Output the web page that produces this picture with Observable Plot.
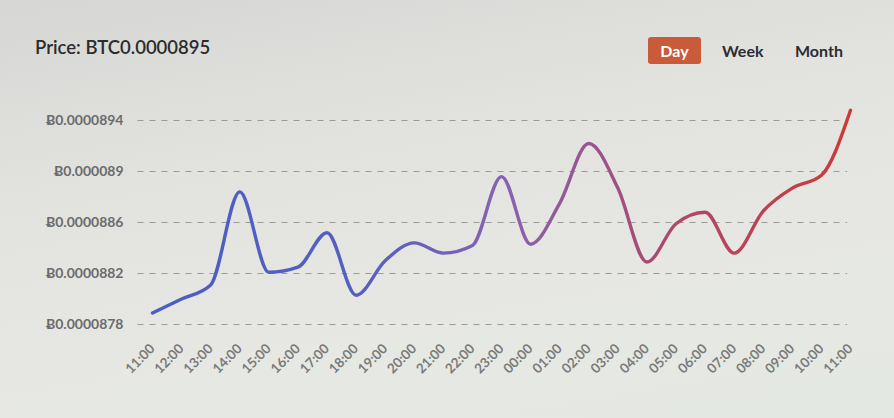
<!DOCTYPE html>
<html>
<head>
<meta charset="utf-8">
<script src="https://cdn.jsdelivr.net/npm/d3@7"></script>
<script src="https://cdn.jsdelivr.net/npm/@observablehq/plot@0.6"></script>
<style>
  html, body { margin: 0; padding: 0; }
  body {
    width: 894px; height: 418px; overflow: hidden; position: relative;
    background: linear-gradient(170deg, #d6d6d4 0%, #e2e2df 35%, #e7e8e4 70%, #e4e8e2 100%);
    font-family: Lato, "Open Sans", sans-serif;
  }
  #title { position: absolute; left: 35px; top: 36px; font-size: 18.5px; font-weight: 600; color: #2b2b2b; }
  .btn { position: absolute; top: 37px; height: 27px; line-height: 27px; font-size: 16px; font-weight: 700; color: #2c2c34; }
  #day { left: 648px; width: 53px; background: #c95a3a; color: #fff; text-align: center; border-radius: 3px; }
  #week { left: 722px; }
  #month { left: 795px; }
  #chart { position: absolute; left: 0; top: 80px; }
</style>
</head>
<body>
<div id="title">Price: BTC0.0000895</div>
<div class="btn" id="day">Day</div>
<div class="btn" id="week">Week</div>
<div class="btn" id="month">Month</div>
<div id="chart"></div>
<script>
const hours = ["11:00","12:00","13:00","14:00","15:00","16:00","17:00","18:00","19:00","20:00","21:00","22:00","23:00","00:00","01:00","02:00","03:00","04:00","05:00","06:00","07:00","08:00","09:00","10:00","11:00"];
const prices = [0.00008789, 0.00008800, 0.00008811, 0.00008884, 0.00008821, 0.00008825, 0.00008852, 0.00008803, 0.00008830, 0.00008844, 0.00008836, 0.00008842, 0.00008896, 0.00008843, 0.00008875, 0.00008922, 0.00008887, 0.00008829, 0.00008859, 0.00008868, 0.00008836, 0.00008869, 0.00008887, 0.00008897, 0.00008948];
const yTicks = [0.0000878, 0.0000882, 0.0000886, 0.0000890, 0.0000894];
const yTickLabels = ["Ƀ0.0000878", "Ƀ0.0000882", "Ƀ0.0000886", "Ƀ0.000089", "Ƀ0.0000894"];

const data = prices.map((p, i) => ({i, p}));

const chart = Plot.plot({
  width: 894,
  height: 338,
  marginLeft: 152,
  marginRight: 44,
  marginTop: 40,
  marginBottom: 94,
  style: {background: "transparent", fontFamily: "Lato, 'Open Sans', sans-serif"},
  x: {type: "linear", domain: [0, hours.length - 1]},
  y: {domain: [yTicks[0], yTicks[yTicks.length - 1]]},
  marks: [
    Plot.ruleY(yTicks, {x1: -0.5, x2: 23.9, stroke: "#9a9a9a", strokeWidth: 1.2, strokeDasharray: "6,6"}),
    Plot.axisY(yTicks, {
      tickSize: 0, tickPadding: 29,
      tickFormat: (d, i) => yTickLabels[i],
      fontSize: 14, fontWeight: 700, fill: "#6b6b6b", label: null
    }),
    Plot.axisX(d3.range(hours.length), {
      tickSize: 0, tickPadding: 22, tickRotate: -45,
      tickFormat: i => hours[i],
      fontSize: 13.5, fontWeight: 700, fill: "#7a7a7a", label: null
    }),
    Plot.line(data, {x: "i", y: "p", curve: "monotone-x", stroke: "url(#priceGrad)", strokeWidth: 3.4})
  ]
});

const ns = "http://www.w3.org/2000/svg";
const defs = document.createElementNS(ns, "defs");
const grad = document.createElementNS(ns, "linearGradient");
grad.setAttribute("id", "priceGrad");
grad.setAttribute("gradientUnits", "userSpaceOnUse");
grad.setAttribute("x1", 152); grad.setAttribute("x2", 850);
grad.setAttribute("y1", 0); grad.setAttribute("y2", 0);
[[0, "#4a5ec4"], [0.3, "#5460c0"], [0.5, "#8663b4"], [0.72, "#a94a72"], [1, "#cc3a38"]].forEach(([o, c]) => {
  const s = document.createElementNS(ns, "stop");
  s.setAttribute("offset", o); s.setAttribute("stop-color", c);
  grad.appendChild(s);
});
defs.appendChild(grad);
chart.insertBefore(defs, chart.firstChild);
document.getElementById("chart").appendChild(chart);
</script>
</body>
</html>
